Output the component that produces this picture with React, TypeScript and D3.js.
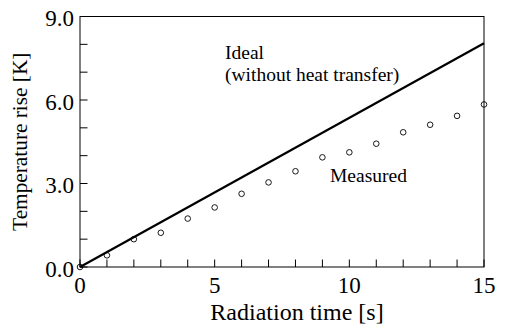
import React from "react";
import * as d3 from "d3";

// Radiation time [s] for each measurement
const times = [0, 1, 2, 3, 4, 5, 6, 7, 8, 9, 10, 11, 12, 13, 14, 15];
// Measured temperature rise [K]
const measured = [0, 0.42, 1.0, 1.23, 1.74, 2.14, 2.63, 3.04, 3.44, 3.94, 4.12, 4.43, 4.84, 5.11, 5.43, 5.84];
// Ideal (adiabatic) temperature rise: end points of the straight line
const idealTimes = [0, 15];
const idealRise = [0, 8.04];

const xTickLabels = [0, 5, 10, 15];
const yTickLabels = ["0.0", "3.0", "6.0", "9.0"];
const xMinorTicks = d3.range(0, 16, 1);
const yMinorTicks = d3.range(0, 10, 1);

const W = 506;
const H = 325;
const left = 80;
const right = 484;
const top = 16.5;
const bottom = 267;
const FONT = "Liberation Serif, Times New Roman, DejaVu Serif, serif";

export default function App() {
  const x = d3.scaleLinear().domain([0, 15]).range([left, right]);
  const y = d3.scaleLinear().domain([0, 9]).range([bottom, top]);

  const idealPath = d3
    .line<number>()
    .x((_, i) => x(idealTimes[i]))
    .y((d) => y(d))(idealRise);

  const tick = 7.5;
  const txt = { fontFamily: FONT };

  return (
    <svg
      width={W}
      height={H}
      style={{ position: "absolute", left: 0, top: 0, background: "#fff" }}
    >
      {/* frame */}
      <rect
        x={left}
        y={top}
        width={right - left}
        height={bottom - top}
        fill="none"
        stroke="#000"
        strokeWidth={1}
      />
      {/* inward ticks on the bottom axis */}
      {xMinorTicks.map((t) => (
        <line
          key={"xt" + t}
          x1={x(t)}
          x2={x(t)}
          y1={bottom}
          y2={bottom - tick}
          stroke="#000"
          strokeWidth={1}
        />
      ))}
      {/* inward ticks on the left axis */}
      {yMinorTicks.map((t) => (
        <line
          key={"yt" + t}
          x1={left}
          x2={left + tick}
          y1={y(t)}
          y2={y(t)}
          stroke="#000"
          strokeWidth={1}
        />
      ))}
      {/* tick labels */}
      {xTickLabels.map((t) => (
        <text
          key={"xl" + t}
          x={x(t)}
          y={293}
          textAnchor="middle"
          fontSize={23}
          fill="#000"
          style={txt}
        >
          {t}
        </text>
      ))}
      {yTickLabels.map((t) => (
        <text
          key={"yl" + t}
          x={74}
          y={y(+t) + 9.5}
          textAnchor="end"
          fontSize={23}
          fill="#000"
          style={txt}
        >
          {t}
        </text>
      ))}
      {/* axis titles */}
      <text x={297} y={320} textAnchor="middle" fontSize={24} fill="#000" style={txt}>
        Radiation time [s]
      </text>
      <text
        transform={`translate(27,${(top + bottom) / 2}) rotate(-90)`}
        textAnchor="middle"
        fontSize={21.3}
        fill="#000"
        style={txt}
      >
        Temperature rise [K]
      </text>
      {/* ideal line */}
      <path d={idealPath || ""} fill="none" stroke="#000" strokeWidth={2.2} />
      {/* measured points */}
      {measured.map((v, i) => (
        <circle
          key={"m" + i}
          cx={x(times[i])}
          cy={y(v)}
          r={2.8}
          fill="none"
          stroke="#000"
          strokeWidth={0.9}
        />
      ))}
      {/* annotations */}
      <text x={225} y={59} fontSize={19.5} fill="#000" style={txt}>
        Ideal
      </text>
      <text x={225} y={81} fontSize={19.5} fill="#000" style={txt}>
        (without heat transfer)
      </text>
      <text x={330} y={182} fontSize={19.5} fill="#000" style={txt}>
        Measured
      </text>
    </svg>
  );
}
